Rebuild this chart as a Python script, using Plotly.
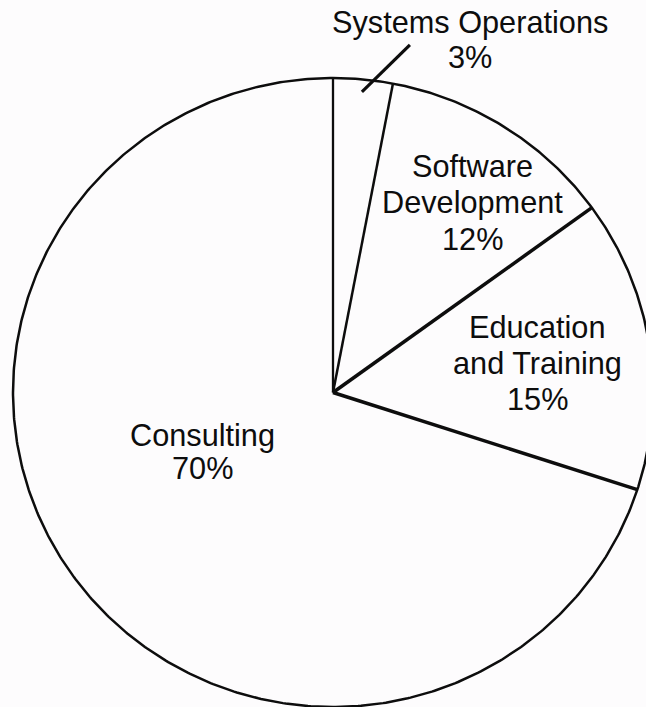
import numpy as np
import plotly.graph_objects as go

# Share of effort by activity, clockwise from 12 o'clock
categories = ["Systems Operations", "Software Development", "Education and Training", "Consulting"]
shares = [3, 12, 15, 70]
# Label text, one entry per line; the last line carries the share
label_lines = [
    ["Systems Operations"],
    ["Software", "Development"],
    ["Education", "and Training"],
    ["Consulting"],
]

# Geometry of the drawing (pixel coordinates, y grows downward)
W, H = 646, 707
CX, CY = 333.0, 392.5
RX, RY = 320.0, 314.5
INK = "#0d0d0d"
BG = "#fdfcfd"
FONT = dict(family="Liberation Sans, Arial, Helvetica, sans-serif", size=30.7, color=INK)


def on_rim(frac, scale=1.0):
    """Point on the outline at a cumulative fraction of the whole (clockwise from top)."""
    ang = 2 * np.pi * frac
    return CX + scale * RX * np.sin(ang), CY - scale * RY * np.cos(ang)


fig = go.Figure()

# Outline of the pie
t = np.linspace(0, 1, 721)
ox, oy = on_rim(t)
fig.add_trace(go.Scatter(x=ox, y=oy, mode="lines", line=dict(color=INK, width=2.5),
                         hoverinfo="skip", showlegend=False))

# Slice boundaries from the cumulative shares
total = float(sum(shares))
bounds = np.concatenate([[0.0], np.cumsum(shares)[:-1] / total])
edge_widths = [2.3, 2.5, 3.5, 3.5]
for f, w in zip(bounds, edge_widths):
    ex, ey = on_rim(f)
    fig.add_trace(go.Scatter(x=[CX, ex], y=[CY, ey], mode="lines",
                             line=dict(color=INK, width=w),
                             hoverinfo="skip", showlegend=False))

# Leader line for the thin slice, starting just inside its mid-angle
mids = bounds + np.array(shares) / total / 2
lx0, ly0 = on_rim(mids[0], 0.96)
fig.add_trace(go.Scatter(x=[lx0, lx0 + 48], y=[ly0, ly0 - 47], mode="lines",
                         line=dict(color=INK, width=3.2),
                         hoverinfo="skip", showlegend=False))

# Label placement: centre x and the baseline of each line
label_pos = [
    (470, [33, 68]),
    (472, [177, 213, 250]),
    (537, [338, 374, 410]),
    (202, [446, 479]),
]
CAP = 0.716 * FONT["size"]

annotations = []
for lines, share, (lx, baselines) in zip(label_lines, shares, label_pos):
    texts = lines + [f"{share}%"]
    for txt, base in zip(texts, baselines):
        annotations.append(dict(
            x=lx, y=base - CAP / 2, xref="x", yref="y", text=txt,
            showarrow=False, xanchor="center", yanchor="middle", font=FONT,
        ))

fig.update_layout(
    width=W, height=H, autosize=False,
    margin=dict(l=0, r=0, t=0, b=0, pad=0),
    paper_bgcolor=BG, plot_bgcolor=BG,
    xaxis=dict(range=[0, W], visible=False, fixedrange=True),
    yaxis=dict(range=[H, 0], visible=False, fixedrange=True),
    annotations=annotations,
    showlegend=False,
)

fig.write_html("out.html", config={"displayModeBar": False})
